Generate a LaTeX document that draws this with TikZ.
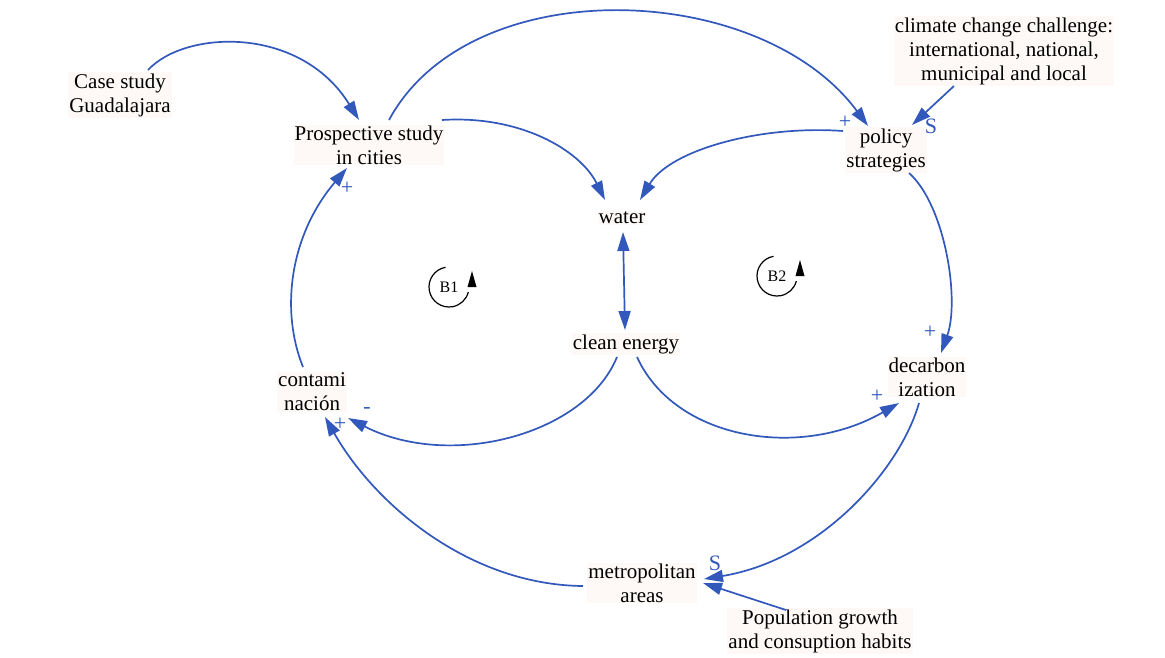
\documentclass[tikz,border=0pt]{standalone}
\usepackage{fontspec}
\setmainfont{Liberation Serif}
\usetikzlibrary{arrows.meta,calc}
\definecolor{conn}{RGB}{50,88,188}
\definecolor{lblbg}{RGB}{254,249,247}
\begin{document}
\begin{tikzpicture}[x=1pt,y=-1pt,
  var/.style={align=center,font=\fontsize{21}{24}\selectfont,inner sep=1pt,fill=lblbg},
  link/.style={draw=conn,line width=1.7pt,-{Triangle[length=19pt,width=12pt]}},
  both/.style={draw=conn,line width=1.7pt,{Triangle[length=19pt,width=12pt]}-{Triangle[length=19pt,width=12pt]}},
  pol/.style={text=conn,font=\fontsize{22}{22}\selectfont,inner sep=0pt},
  sgn/.style={text=conn,font=\fontsize{22}{22}\selectfont,inner sep=0pt},
  looplbl/.style={font=\fontsize{16}{16}\selectfont,inner sep=0pt},
  looparc/.style={line width=1.2pt}]
\useasboundingbox[fill=white] (0,0) rectangle (1165,657);

% variables
\node[var] (case) at (120,95) {Case study\\Guadalajara};
\node[var] (ps) at (369,145) {Prospective study\\in cities};
\node[var] (cc) at (1004,51) {climate change challenge:\\international, national,\\municipal and local};
\node[var] (pol) at (886,150) {policy\\strategies};
\node[var] (water) at (622,218) {water};
\node[var] (ce) at (626,344) {clean energy};
\node[var] (con) at (312,392) {contami\\nación};
\node[var] (dec) at (927,377) {decarbon\\ization};
\node[var] (met) at (642,583) {metropolitan\\areas};
\node[var] (popg) at (820,631) {Population growth\\and consuption habits};

% connectors
\draw[link] ($(case)+(28,-25)$) .. controls (185,30) and (300,25) .. ($(ps)+(-10,-25)$);
\draw[link] ($(ps)+(20,-25)$) .. controls (470,-30) and (760,-20) .. ($(pol)+(-18,-24)$);
\draw[link] ($(ps)+(73,-25)$) .. controls (520,115) and (580,150) .. ($(water)+(-17,-18)$);
\draw[link] ($(pol)+(-43,-19)$) .. controls (760,125) and (670,150) .. ($(water)+(18,-18)$);
\draw[link] ($(cc)+(-50,35)$) -- ($(pol)+(26,-25)$);
\draw[link] ($(pol)+(23,23)$) .. controls (945,205) and (960,300) .. ($(dec)+(14,-24)$);
\draw[both] ($(water)+(1,14)$) -- ($(ce)+(-1,-14)$);
\draw[link] ($(ce)+(-9,13)$) .. controls (585,435) and (450,470) .. ($(con)+(36,26)$);
\draw[link] ($(ce)+(11,13)$) .. controls (675,440) and (800,460) .. ($(dec)+(-28,26)$);
\draw[link] ($(dec)+(-8,26)$) .. controls (900,470) and (820,560) .. ($(met)+(62,-4)$);
\draw[link] ($(popg)+(-34,-21)$) -- ($(met)+(61,0)$);
\draw[link] ($(met)+(-59,3)$) .. controls (470,585) and (375,505) .. ($(con)+(13,25)$);
\draw[link] ($(con)+(-9,-25)$) .. controls (280,310) and (290,235) .. ($(ps)+(-22,23)$);

% polarities
\node[pol] (p1) at (845,122) {+};
\node[sgn] (s1) at (931,126) {S};
\node[pol] (p2) at (930,332) {+};
\node[pol] (p3) at (367,410) {-};
\node[pol] (p4) at (877,396) {+};
\node[sgn] (s2) at (715,563) {S};
\node[pol] (p5) at (340,424) {+};
\node[pol] (p6) at (347,188) {+};

% loop symbols
\node[looplbl] (b1) at (449,287) {B1};
\draw[looparc] ($(b1)+(-100:20)$) arc[start angle=-100,end angle=-345,radius=20];
\fill ($(b1)+(18.5,0)$) -- ($(b1)+(27.5,0)$) -- ($(b1)+(23,-16)$) -- cycle;
\node[looplbl] (b2) at (777,276) {B2};
\draw[looparc] ($(b2)+(-100:20)$) arc[start angle=-100,end angle=-345,radius=20];
\fill ($(b2)+(18.5,0)$) -- ($(b2)+(27.5,0)$) -- ($(b2)+(23,-16)$) -- cycle;
\end{tikzpicture}
\end{document}
